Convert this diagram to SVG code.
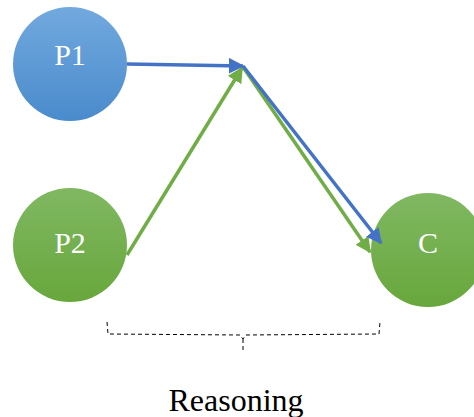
<svg xmlns="http://www.w3.org/2000/svg" width="474" height="417" viewBox="0 0 474 417">
<defs>
<linearGradient id="gb" x1="0" y1="0" x2="0" y2="1"><stop offset="0" stop-color="#72a9de"/><stop offset="1" stop-color="#4a8bcc"/></linearGradient>
<linearGradient id="gg" x1="0" y1="0" x2="0" y2="1"><stop offset="0" stop-color="#80b862"/><stop offset="1" stop-color="#68a73c"/></linearGradient>
<marker id="ab" viewBox="0 0 10 10" refX="9" refY="5" markerWidth="4.5" markerHeight="4.5" orient="auto" markerUnits="strokeWidth"><path d="M0,0 L10,5 L0,10 z" fill="#4472c4"/></marker>
<marker id="ag" viewBox="0 0 10 10" refX="9" refY="5" markerWidth="4.5" markerHeight="4.5" orient="auto" markerUnits="strokeWidth"><path d="M0,0 L10,5 L0,10 z" fill="#70ad47"/></marker>
<style>
.lbl{font-family:"Liberation Serif","Times New Roman",serif;fill:#fff;font-size:30px;text-anchor:middle}
.blue{stroke:#4472c4;stroke-width:3.5;fill:none}
.green{stroke:#70ad47;stroke-width:3.5;fill:none}
</style>
</defs>
<g id="P1"><circle cx="70" cy="64" r="57" fill="url(#gb)"/><text class="lbl" x="70" y="65">P1</text></g>
<g id="P2"><circle cx="70" cy="245" r="57" fill="url(#gg)"/><text class="lbl" x="70" y="253">P2</text></g>
<g id="C"><circle cx="428" cy="250" r="57" fill="url(#gg)"/><text class="lbl" x="428" y="253">C</text></g>
<g id="connectors">
<line class="green" x1="127" y1="255" x2="242" y2="68" marker-end="url(#ag)"/>
<line class="green" x1="243" y1="67" x2="370" y2="252" marker-end="url(#ag)"/>
<line class="blue" x1="127" y1="64" x2="243" y2="66" marker-end="url(#ab)"/>
<line class="blue" x1="243" y1="66" x2="381" y2="243" marker-end="url(#ab)"/>
</g>
<g id="brace">
<path d="M107,322 L108,334 L240,335 L243,339 L246,335 L379,334 L380,322 M243,339 L243,352" fill="none" stroke="#000" stroke-width="1" stroke-dasharray="4,3"/>
</g>
<text x="236" y="411" font-family="'Liberation Serif','Times New Roman',serif" font-size="32" text-anchor="middle" fill="#000">Reasoning</text>
</svg>
